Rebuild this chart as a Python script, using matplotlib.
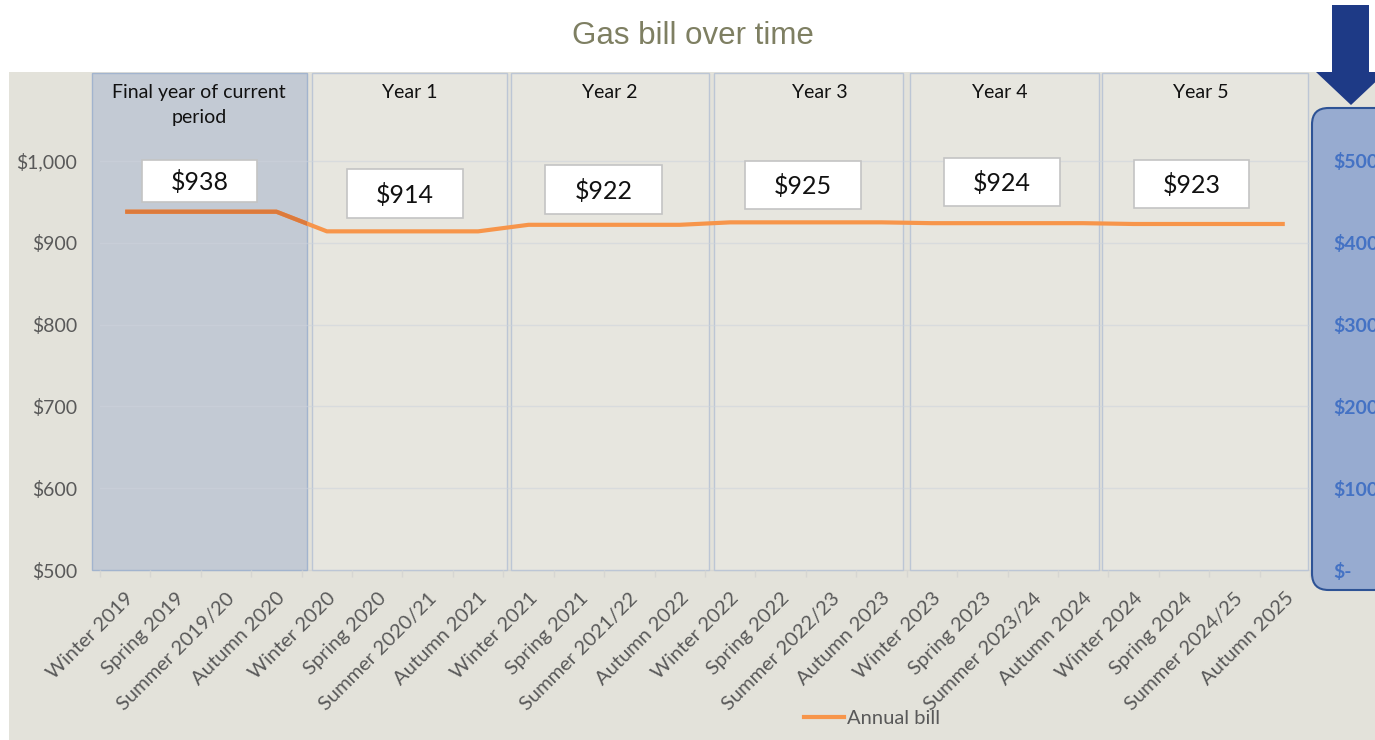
import matplotlib
matplotlib.use("Agg")
import matplotlib.pyplot as plt
from matplotlib.patches import Rectangle, FancyBboxPatch, Polygon
from matplotlib.lines import Line2D
import numpy as np

# ---------------- data ----------------
categories = [
    "Winter 2019", "Spring 2019", "Summer 2019/20", "Autumn 2020",
    "Winter 2020", "Spring 2020", "Summer 2020/21", "Autumn 2021",
    "Winter 2021", "Spring 2021", "Summer 2021/22", "Autumn 2022",
    "Winter 2022", "Spring 2022", "Summer 2022/23", "Autumn 2023",
    "Winter 2023", "Spring 2023", "Summer 2023/24", "Autumn 2024",
    "Winter 2024", "Spring 2024", "Summer 2024/25", "Autumn 2025",
]
annual_bill = [938, 938, 938, 938,
               914, 914, 914, 914,
               922, 922, 922, 922,
               925, 925, 925, 925,
               924, 924, 924, 924,
               923, 923, 923, 923]
period_labels = ["Final year of current\nperiod", "Year 1", "Year 2",
                 "Year 3", "Year 4", "Year 5"]
period_values = [938, 914, 922, 925, 924, 923]
y_ticks = [500, 600, 700, 800, 900, 1000]
y2_ticks = [0, 100, 200, 300, 400, 500]

# ---------------- layout ----------------
W, H = 1375, 740
DPI = 100
FONT = ["Lato", "DejaVu Sans"]
plt.rcParams["font.family"] = FONT

BG = "#E3E2DA"
TXT = "#595959"
ORANGE = "#F7954A"

fig = plt.figure(figsize=(W / DPI, H / DPI), dpi=DPI, facecolor="white")


def fx(px):
    return px / W


def fy(py):
    return 1 - py / H


def frect(x0, y0, x1, y1, **kw):
    return Rectangle((fx(x0), fy(y1)), fx(x1) - fx(x0), fy(y0) - fy(y1),
                     transform=fig.transFigure, **kw)


# grey background panel
fig.patches.append(frect(9, 72, W + 5, H + 5, facecolor=BG, edgecolor="none", zorder=-5))

# title
fig.text(fx(693), fy(36), "Gas bill over time", ha="center", va="center",
         fontsize=22.5, color="#7E7F62", family=["Liberation Sans", "DejaVu Sans"])

# main axes
ax = fig.add_axes([fx(100), fy(570), fx(1310) - fx(100), fy(72) - fy(570)])
ax.set_facecolor("none")
n = len(categories)
x = np.arange(n)
ax.set_xlim(-0.5, n - 0.5)
ax.set_ylim(500, 500 + (570 - 72) / 409 * 500)

# period bands (pixel layout)
band_px = [(92, 307), (312, 507), (511, 709), (714, 903), (910, 1099), (1102, 1308)]
bands = []
for i, (a, b) in enumerate(band_px):
    if i == 0:
        r = frect(a, 73, b, 570, facecolor="#C3CAD4", edgecolor="#A2B4CE",
                  linewidth=1.0, zorder=1)
    else:
        r = frect(a, 73, b, 570, facecolor="#E7E6DF", edgecolor="#BCC6D5",
                  linewidth=1.0, zorder=1)
    r.set_clip_on(False)
    ax.add_patch(r)
    bands.append(r)

# gridlines
for v in y_ticks[1:]:
    ax.axhline(v, color="#CDD3DC", linewidth=1, alpha=0.55, zorder=2)

# line
ax.plot(x, annual_bill, color=ORANGE, linewidth=3.0, zorder=3,
        solid_capstyle="butt", label="Annual bill")
dark, = ax.plot(x, annual_bill, color="#DC7A3C", linewidth=3.0, zorder=3.5,
                solid_capstyle="butt")
dark.set_clip_path(bands[0])

# axes styling
for s in ["left", "right", "top"]:
    ax.spines[s].set_visible(False)
ax.spines["bottom"].set_color("#D6D6D2")
ax.spines["bottom"].set_linewidth(1)
ax.spines["bottom"].set_zorder(0.5)

ax.set_yticks(y_ticks)
ax.set_yticklabels([f"${v:,.0f}" for v in y_ticks])
ax.tick_params(axis="y", length=0, pad=16.5, labelsize=14, labelcolor=TXT)

ax.set_xticks(np.arange(n + 1) - 0.5)
ax.set_xticklabels([])
ax.tick_params(axis="x", which="major", length=5, width=1, color="#D6D6D2",
               direction="out")
ax.set_xticks(x, minor=True)
ax.set_xticklabels(categories, minor=True, rotation=45, ha="right",
                   va="top", rotation_mode="anchor")
ax.tick_params(axis="x", which="minor", length=0, pad=14, labelsize=14.5,
               labelcolor=TXT)

# period headers
head_x = [199, 410, 610, 820, 1000, 1201]
for lab, hx in zip(period_labels, head_x):
    fig.text(fx(hx), fy(84), lab, ha="center", va="top", fontsize=14,
             color="#111111", linespacing=1.6, zorder=5)

# value boxes
box_geo = [(142, 160, 257, 202), (347, 169, 463, 218), (545, 165, 662, 214),
           (745, 161, 861, 209), (944, 158, 1060, 206), (1134, 160, 1249, 208)]
for val, (a, b, c, d) in zip(period_values, box_geo):
    fig.patches.append(frect(a, b, c, d, facecolor="white", edgecolor="#C4C4C4",
                             linewidth=1.2, zorder=6))
    fig.text(fx((a + c) / 2), fy((b + d) / 2 + 1), f"${val:,.0f}", ha="center",
             va="center", fontsize=18, color="#111111", zorder=7)

# right secondary axis and its panel
ax2 = ax.twinx()
ax2.set_ylim(0, (570 - 72) / 409 * 500)
for s in ax2.spines.values():
    s.set_visible(False)
panel = FancyBboxPatch((fx(1312), fy(590)), fx(1420) - fx(1312), fy(108) - fy(590),
                       boxstyle="round,pad=0,rounding_size=0.012",
                       transform=fig.transFigure, facecolor="#97ABD0",
                       edgecolor="#2E5395", linewidth=1.5, zorder=0.8,
                       mutation_aspect=W / H, clip_on=False)
ax2.add_patch(panel)
ax2.set_yticks(y2_ticks)
ax2.set_yticklabels(["$-" if v == 0 else f"${v:,.0f}" for v in y2_ticks])
ax2.tick_params(axis="y", length=0, pad=16.5, labelsize=14,
                labelcolor="#4472C4")
for t in ax2.get_yticklabels():
    t.set_fontweight("bold")

# arrow
arrow_px = [(1332, 5), (1369, 5), (1369, 72), (1386, 72), (1351, 105),
            (1316, 72), (1332, 72)]
fig.patches.append(Polygon([(fx(a), fy(b)) for a, b in arrow_px], closed=True,
                           transform=fig.transFigure, facecolor="#1E3A86",
                           edgecolor="none", zorder=8))

# legend
handles = [Line2D([], [], color=ORANGE, linewidth=3.0)]
leg = fig.legend(handles, ["Annual bill"], loc="center",
                 bbox_to_anchor=(fx(872), fy(718)), frameon=False,
                 fontsize=14.5, handlelength=2.0, handletextpad=0.15)
for t in leg.get_texts():
    t.set_color(TXT)

fig.savefig("out.png", dpi=DPI, facecolor="white")
